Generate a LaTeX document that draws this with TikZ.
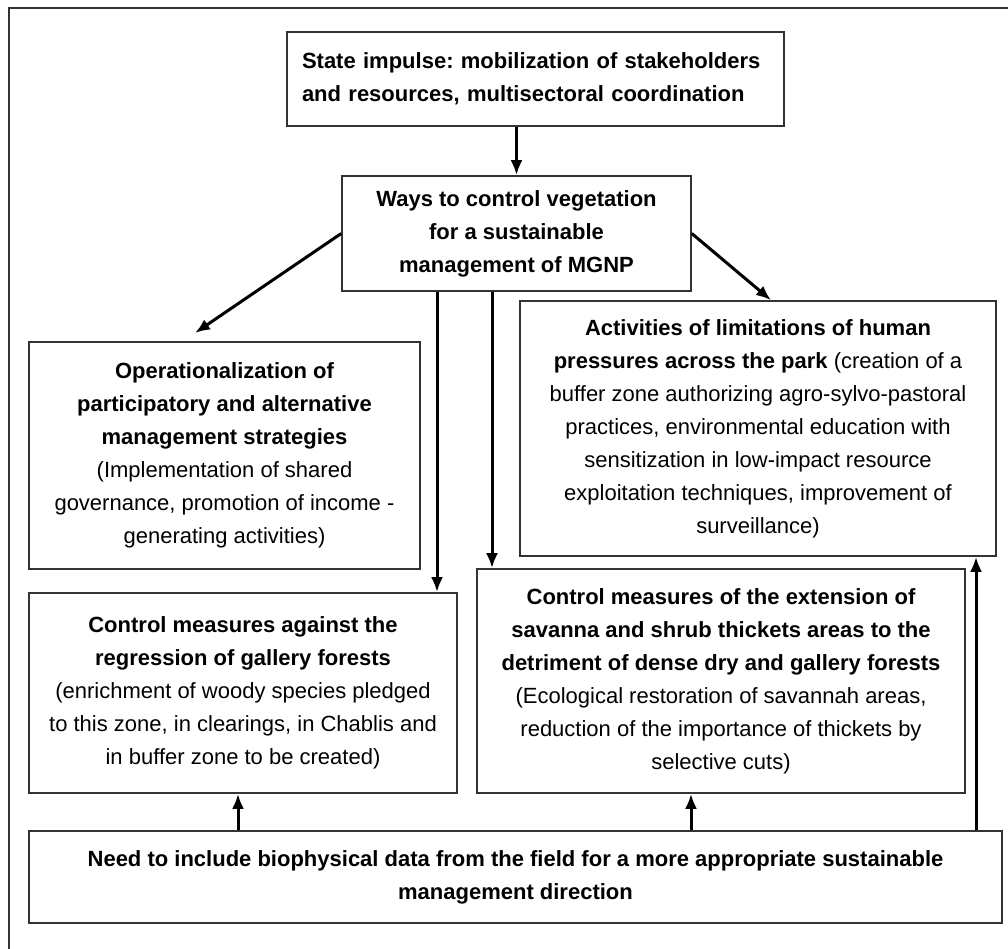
\documentclass[tikz,border=0pt]{standalone}
\usepackage{fontspec}
\setmainfont{Liberation Sans}
\frenchspacing
\usetikzlibrary{arrows.meta}

\begin{document}
\begin{tikzpicture}[x=1pt,y=-1pt,
    box/.style={draw=black!80,line width=1.6pt,fill=white,align=center,
      inner sep=0pt,font=\fontsize{22}{33}\selectfont},
    arr/.style={-{Latex[length=15pt,width=12pt]},line width=3pt}]
  \useasboundingbox (0,0) rectangle (1008,949);

  % frame
  \draw[line width=2pt,black!80] (9,949) -- (9,8) -- (1008,8);

  \path (535.5,79) node[box,minimum width=497pt,minimum height=94pt,
                        text width=467pt,inner xsep=15pt,align=left] (state)
    {\textbf{State impulse: mobilization of stakeholders}\\
     \textbf{and resources, multisectoral coordination}};

  \path (516.5,233.5) node[box,minimum width=349pt,minimum height=115pt] (ways)
    {\textbf{Ways to control vegetation}\\
     \textbf{for a sustainable}\\
     \textbf{management of MGNP}};

  \path (224.5,455.5) node[box,minimum width=391pt,minimum height=227pt] (oper)
    {\textbf{Operationalization of}\\
     \textbf{participatory and alternative}\\
     \textbf{management strategies}\\
     (Implementation of shared\\
     governance, promotion of income -\\
     generating activities)};

  \path (758,428.5) node[box,minimum width=476pt,minimum height=255pt] (act)
    {\textbf{Activities of limitations of human}\\
     \textbf{pressures across the park} (creation of a\\
     buffer zone authorizing agro-sylvo-pastoral\\
     practices, environmental education with\\
     sensitization in low-impact resource\\
     exploitation techniques, improvement of\\
     surveillance)};

  \path (243,693) node[box,minimum width=428pt,minimum height=200pt] (gal)
    {\textbf{Control measures against the}\\
     \textbf{regression of gallery forests}\\
     (enrichment of woody species pledged\\
     to this zone, in clearings, in Chablis and\\
     in buffer zone to be created)};

  \path (721,681) node[box,minimum width=488pt,minimum height=224pt] (ext)
    {\textbf{Control measures of the extension of}\\
     \textbf{savanna and shrub thickets areas to the}\\
     \textbf{detriment of dense dry and gallery forests}\\
     (Ecological restoration of savannah areas,\\
     reduction of the importance of thickets by\\
     selective cuts)};

  \path (515.5,877) node[box,minimum width=973pt,minimum height=92pt] (need)
    {\textbf{Need to include biophysical data from the field for a more appropriate sustainable}\\
     \textbf{management direction}};

  \coordinate (opTip) at (195,333);

  \draw[arr] (state.south -| ways.north) -- (ways.north);
  \draw[arr] (ways.west) -- (opTip);
  \draw[arr] (ways.east) -- ([xshift=13pt]act.north);
  \draw[arr] (ways.south -| 437,0) -- (gal.north -| 437,0);
  \draw[arr] (ways.south -| 492,0) -- (ext.north -| 492,0);

  \draw[arr] (need.north -| 238,0) -- (gal.south -| 238,0);
  \draw[arr] (need.north -| 691,0) -- (ext.south -| 691,0);
  \draw[arr] (need.north -| 976,0) -- (act.south -| 976,0);
\end{tikzpicture}
\end{document}
